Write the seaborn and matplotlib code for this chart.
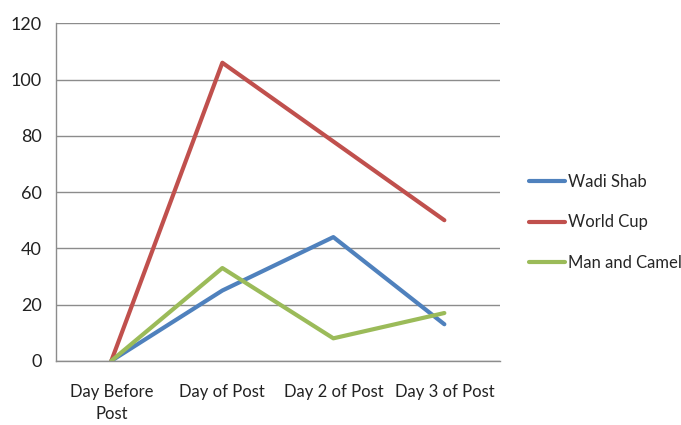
import pandas as pd
import matplotlib.pyplot as plt
import seaborn as sns

# data
days = ['Day Before\nPost', 'Day of Post', 'Day 2 of Post', 'Day 3 of Post']
wadi_shab = [0, 25, 44, 13]
world_cup = [0, 106, 78, 50]
man_and_camel = [0, 33, 8, 17]
series_names = ['Wadi Shab', 'World Cup', 'Man and Camel']
colors = ['#4F81BD', '#C0504D', '#9BBB59']

df = pd.DataFrame({
    'Day': list(range(len(days))) * 3,
    'Views': wadi_shab + world_cup + man_and_camel,
    'Post': [n for n in series_names for _ in days],
})

sns.set_style('white')
plt.rcParams['font.family'] = ['Lato', 'DejaVu Sans']

fig = plt.figure(figsize=(6.81, 4.25), dpi=100)
ax = fig.add_axes([0.082, 0.151, 0.652, 0.794])

sns.lineplot(data=df, x='Day', y='Views', hue='Post', palette=colors,
             hue_order=series_names, linewidth=3, ax=ax)

ax.set_xlim(-0.5, 3.5)
ax.set_ylim(0, 120)
ax.set_yticks(range(0, 121, 20))
ax.set_xticks(range(len(days)))
ax.set_xticklabels(days, linespacing=1.45)
ax.set_xticks([i - 0.5 for i in range(len(days) + 1)], minor=True)
ax.tick_params(axis='x', which='major', length=0, pad=17, labelsize=12, labelcolor='#222222')
ax.tick_params(axis='x', which='minor', length=7, color='#8c8c8c', width=1)
ax.tick_params(axis='y', length=6, color='#8c8c8c', labelsize=13, labelcolor='#222222', pad=4)

ax.grid(axis='y', color='#8c8c8c', linewidth=1)
ax.set_axisbelow(True)
for side in ['top', 'right']:
    ax.spines[side].set_visible(False)
for side in ['left', 'bottom']:
    ax.spines[side].set_color('#8c8c8c')
    ax.spines[side].set_linewidth(1)

ax.set_xlabel('')
ax.set_ylabel('')

ax.legend(loc='center left', bbox_to_anchor=(1.05, 0.41), frameon=False,
          fontsize=12, handlelength=2.2, handletextpad=0.15, labelspacing=1.45,
          borderaxespad=0)

fig.savefig('out.png', dpi=100)
